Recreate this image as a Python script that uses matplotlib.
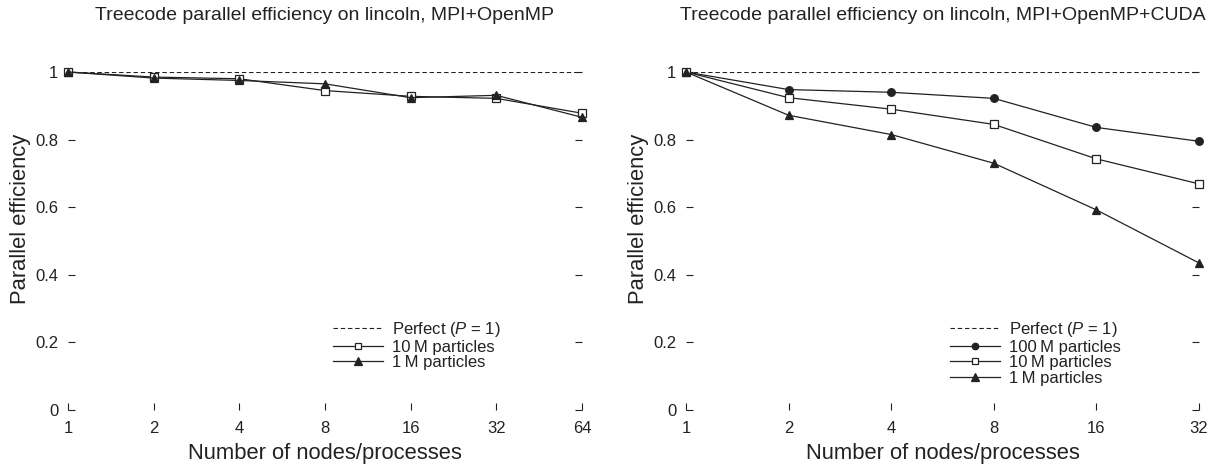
import matplotlib
matplotlib.use("Agg")
import matplotlib.pyplot as plt
import numpy as np

plt.rcParams["font.family"] = ["Liberation Sans", "DejaVu Sans"]
plt.rcParams["mathtext.fontset"] = "custom"
plt.rcParams["mathtext.it"] = "Liberation Sans:italic"
plt.rcParams["mathtext.rm"] = "Liberation Sans"

INK = "#222222"

# ---- data ----
nodes_omp = [1, 2, 4, 8, 16, 32, 64]
eff_omp_10m = [1.0, 0.985, 0.980, 0.945, 0.928, 0.922, 0.878]
eff_omp_1m = [1.0, 0.982, 0.975, 0.965, 0.924, 0.931, 0.866]

nodes_cuda = [1, 2, 4, 8, 16, 32]
eff_cuda_100m = [1.0, 0.948, 0.940, 0.922, 0.836, 0.795]
eff_cuda_10m = [1.0, 0.924, 0.890, 0.845, 0.743, 0.669]
eff_cuda_1m = [1.0, 0.872, 0.815, 0.730, 0.592, 0.435]

perfect_eff = 1.0
y_ticks = [0, 0.2, 0.4, 0.6, 0.8, 1.0]
y_ticklabels = ["0", "0.2", "0.4", "0.6", "0.8", "1"]

titles = ["Treecode parallel efficiency on lincoln, MPI+OpenMP",
          "Treecode parallel efficiency on lincoln, MPI+OpenMP+CUDA"]


def style_axes(ax, nodes, title):
    ax.set_xscale("log", base=2)
    ax.set_xlim(nodes[0], nodes[-1])
    ax.set_ylim(0, 1)
    ax.set_xticks(nodes)
    ax.set_xticklabels([str(n) for n in nodes])
    ax.minorticks_off()
    ax.set_yticks(y_ticks)
    ax.set_yticklabels(y_ticklabels)
    for s in ax.spines.values():
        s.set_visible(False)
    ax.tick_params(axis="both", direction="in", length=5, width=0.8,
                   color=INK, labelcolor=INK, labelsize=12)
    ax.tick_params(axis="y", left=True, right=True, pad=7)
    ax.tick_params(axis="x", bottom=True, top=False, pad=8)
    ax.text(0.5, 1.166, title, transform=ax.transAxes, ha="center",
            va="center", fontsize=14, color=INK)
    ax.text(-0.093, 0.565, "Parallel efficiency", transform=ax.transAxes,
            ha="center", va="center", rotation=90, fontsize=15.8, color=INK)
    ax.set_xlabel("Number of nodes/processes", fontsize=15.8, color=INK,
                  labelpad=5)


def series(ax, x, y, marker, filled, label, ms=5.5):
    ax.plot(x, y, color=INK, lw=0.9, marker=marker, markersize=ms,
            markerfacecolor=INK if filled else "white",
            markeredgecolor=INK, markeredgewidth=0.9,
            clip_on=False, label=label, zorder=3)


fig = plt.figure(figsize=(12.2, 4.69), dpi=100)
ax1 = fig.add_axes([68 / 1220, 1 - 410 / 469, 514 / 1220, 338 / 469])
ax2 = fig.add_axes([686 / 1220, 1 - 410 / 469, 513 / 1220, 338 / 469])

perfect_label = "Perfect ($P$ = 1)"

# left panel: MPI+OpenMP
ax1.plot(nodes_omp, [perfect_eff] * len(nodes_omp), color=INK, lw=0.8,
         ls=(0, (4, 2.5)), label=perfect_label, zorder=2)
series(ax1, nodes_omp, eff_omp_10m, "s", False, "10\u2009M particles")
series(ax1, nodes_omp, eff_omp_1m, "^", True, "1\u2009M particles", ms=6)
style_axes(ax1, nodes_omp, titles[0])

# right panel: MPI+OpenMP+CUDA
ax2.plot(nodes_cuda, [perfect_eff] * len(nodes_cuda), color=INK, lw=0.8,
         ls=(0, (4, 2.5)), label=perfect_label, zorder=2)
series(ax2, nodes_cuda, eff_cuda_100m, "o", True, "100\u2009M particles")
series(ax2, nodes_cuda, eff_cuda_10m, "s", False, "10\u2009M particles")
series(ax2, nodes_cuda, eff_cuda_1m, "^", True, "1\u2009M particles", ms=6)
style_axes(ax2, nodes_cuda, titles[1])

for ax, x0 in ((ax1, 0.515), (ax2, 0.515)):
    leg = ax.legend(loc="upper left", bbox_to_anchor=(x0, 0.266),
                    frameon=False, fontsize=12, borderpad=0,
                    borderaxespad=0, handlelength=3.0, handletextpad=0.55,
                    labelspacing=0.03, markerscale=0.85)
    for t in leg.get_texts():
        t.set_color(INK)

fig.savefig("out.png", dpi=100, facecolor="white")
